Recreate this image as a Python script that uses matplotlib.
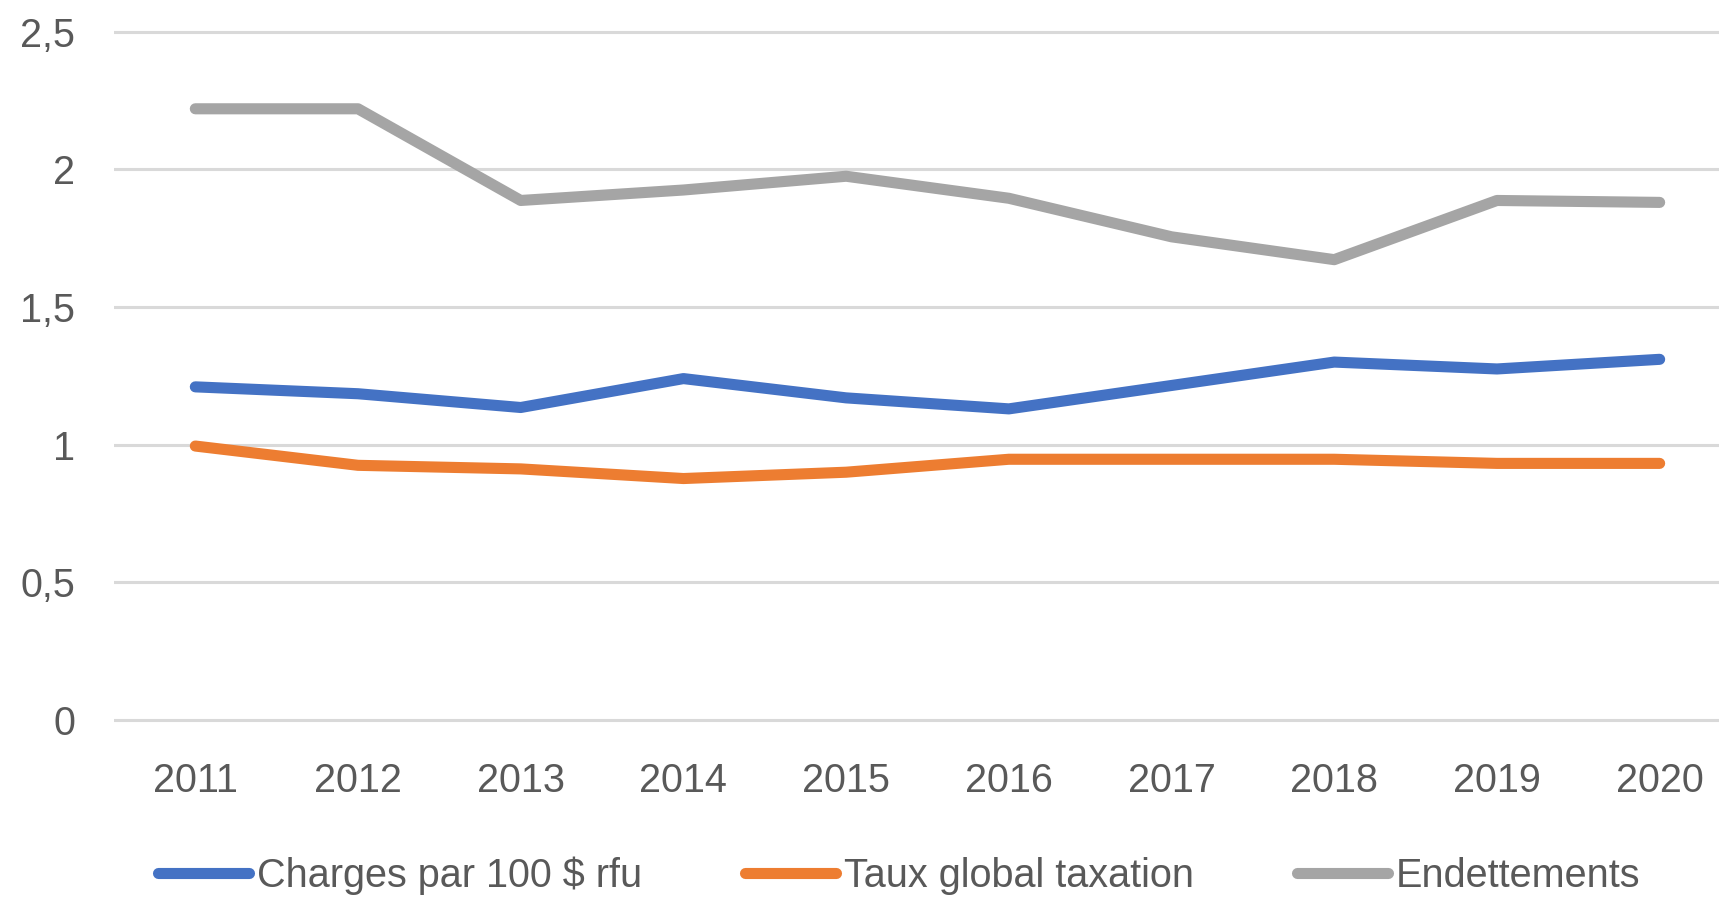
import matplotlib
matplotlib.use("Agg")
import matplotlib.pyplot as plt

# donnees
annees = ['2011', '2012', '2013', '2014', '2015', '2016', '2017', '2018', '2019', '2020']
charges = [1.21, 1.185, 1.135, 1.24, 1.17, 1.13, 1.215, 1.30, 1.275, 1.31]
taxation = [0.995, 0.925, 0.912, 0.877, 0.90, 0.947, 0.947, 0.947, 0.932, 0.932]
endettements = [2.22, 2.22, 1.887, 1.925, 1.975, 1.895, 1.755, 1.672, 1.887, 1.88]

y_ticks = [0, 0.5, 1, 1.5, 2, 2.5]
y_labels = ['0', '0,5', '1', '1,5', '2', '2,5']

plt.rcParams['font.family'] = ['Liberation Sans', 'DejaVu Sans']

fig = plt.figure(figsize=(17.19, 8.97), dpi=100)
ax = fig.add_axes([0.0663, 0.182, 0.9465, 0.798])

x = range(len(annees))
style = dict(lw=8, solid_capstyle='round', solid_joinstyle='round')
ax.plot(x, charges, color='#4472C4', label='Charges par 100 $ rfu', **style)
ax.plot(x, taxation, color='#ED7D31', label='Taux global taxation', **style)
ax.plot(x, endettements, color='#A5A5A5', label='Endettements', **style)

ax.set_xlim(-0.5, 9.5)
ax.set_ylim(-0.05, 2.55)
ax.set_yticks(y_ticks)
ax.set_yticklabels(y_labels)
ax.set_xticks(list(x))
ax.set_xticklabels(annees)
ax.grid(axis='y', color='#D9D9D9', lw=2.2)
ax.set_axisbelow(True)
for s in ax.spines.values():
    s.set_visible(False)
ax.tick_params(length=0, labelsize=28.5, colors='#595959', pad=28)
ax.tick_params(axis='x', pad=20)

fig.legend(loc='center', bbox_to_anchor=(0.523, 0.024), ncol=3, frameon=False,
           fontsize=28.5, labelcolor='#595959', handlelength=2.3, handletextpad=0.2,
           columnspacing=2.6)

fig.savefig('out.png', dpi=100, facecolor='white')
